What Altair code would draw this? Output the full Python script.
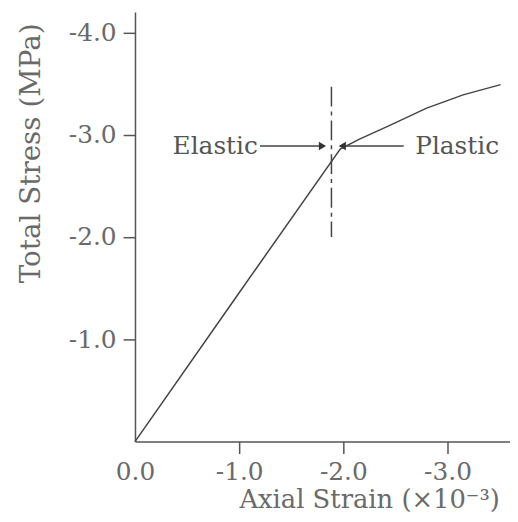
import altair as alt
import pandas as pd

# Stress-strain curve (strain in 1e-3, stress in MPa)
strain = [0.0, -1.0, -1.97, -2.15, -2.42, -2.80, -3.15, -3.51]
stress = [0.0, -1.455, -2.86, -2.955, -3.08, -3.26, -3.39, -3.49]

x_ticks = [0, -1, -2, -3]
y_ticks = [-1, -2, -3, -4]

# Yield marker and annotations
yield_strain = -1.886
yield_line_stress = [-3.47, -2.0]
arrow_stress = -2.89
elastic_arrow = [-1.20, -1.80]   # tail, head
plastic_arrow = [-2.58, -1.99]
labels = ["Elastic", "Plastic"]
label_x = [-1.18, -2.69]

FONT = "DejaVu Serif"
GRAY = "#555555"

curve_df = pd.DataFrame({"strain": strain, "stress": stress, "i": range(len(strain))})
xs = alt.Scale(domain=[-3.6, 0], reverse=True, nice=False, zero=False)
ys = alt.Scale(domain=[-4.2, 0], reverse=True, nice=False, zero=False)

x_axis = alt.Axis(
    values=x_ticks, grid=False, tickSize=12, labelPadding=6, labelFlush=False,
    labelExpr="datum.value == 0 ? '0.0' : '-' + format(abs(datum.value), '.1f')",
    labelFont=FONT, labelFontSize=25, labelColor="#6a6a6a",
    domainColor=GRAY, domainWidth=1.5, domainCap="butt", tickColor=GRAY, tickWidth=1.5,
    tickOpacity={"condition": {"test": "datum.value === 0", "value": 0}, "value": 1},
    title="Axial Strain (×10⁻³)", titleFont=FONT, titleFontSize=26,
    titleFontWeight="normal", titleColor="#6a6a6a",
    titleX=236, titleY=66, titleAlign="center", titleBaseline="alphabetic",
)
y_axis = alt.Axis(
    values=y_ticks, grid=False, tickSize=12, labelPadding=7, labelFlush=False,
    labelExpr="'-' + format(abs(datum.value), '.1f')",
    labelFont=FONT, labelFontSize=25, labelColor="#6a6a6a",
    domainColor=GRAY, domainWidth=1.5, domainCap="butt", tickColor=GRAY, tickWidth=1.5,
    title="Total Stress (MPa)", titleFont=FONT, titleFontSize=28,
    titleFontWeight="normal", titleColor="#6a6a6a",
    titleX=-104, titleY=142, titleAngle=270, titleAlign="center", titleBaseline="middle",
)

curve = alt.Chart(curve_df).mark_line(color="#444444", strokeWidth=1.5).encode(
    x=alt.X("strain:Q", scale=xs, axis=x_axis),
    y=alt.Y("stress:Q", scale=ys, axis=y_axis),
    order="i:Q",
)

vline_df = pd.DataFrame({"x": [yield_strain], "y": [yield_line_stress[0]], "y2": [yield_line_stress[1]]})
vline = alt.Chart(vline_df).mark_rule(color="#444444", strokeWidth=1.5, strokeDash=[20, 5, 4, 5]).encode(
    x=alt.X("x:Q", scale=xs), y=alt.Y("y:Q", scale=ys), y2="y2:Q"
)

arrows_df = pd.DataFrame({
    "x": [elastic_arrow[0], plastic_arrow[0]],
    "x2": [elastic_arrow[1], plastic_arrow[1]],
    "y": [arrow_stress, arrow_stress],
})
arrow_lines = alt.Chart(arrows_df).mark_rule(color="#444444", strokeWidth=1.3).encode(
    x=alt.X("x:Q", scale=xs), x2="x2:Q", y=alt.Y("y:Q", scale=ys)
)

heads_df = pd.DataFrame({
    "x": [elastic_arrow[1], plastic_arrow[1]],
    "y": [arrow_stress, arrow_stress],
    "shape": ["triangle-right", "triangle-left"],
})
heads = alt.Chart(heads_df).mark_point(filled=True, color="#333333", size=70, opacity=1).encode(
    x=alt.X("x:Q", scale=xs), y=alt.Y("y:Q", scale=ys),
    shape=alt.Shape("shape:N", scale=None, legend=None),
)

text_df = pd.DataFrame({"x": label_x, "y": [arrow_stress, arrow_stress], "t": labels})
elastic_text = alt.Chart(text_df.iloc[[0]]).mark_text(
    font=FONT, fontSize=25, color="#555555", align="right", baseline="middle"
).encode(x=alt.X("x:Q", scale=xs), y=alt.Y("y:Q", scale=ys), text="t:N")
plastic_text = alt.Chart(text_df.iloc[[1]]).mark_text(
    font=FONT, fontSize=25, color="#555555", align="left", baseline="middle"
).encode(x=alt.X("x:Q", scale=xs), y=alt.Y("y:Q", scale=ys), text="t:N")

chart = alt.layer(curve, vline, arrow_lines, heads, elastic_text, plastic_text).properties(
    width=378, height=433,
    autosize=alt.AutoSizeParams(type="none"),
    padding={"left": 128, "top": 2, "right": 0, "bottom": 75},
    background="white",
).configure_view(stroke=None)

chart.save("out.html", embed_options={"renderer": "svg", "actions": False})
